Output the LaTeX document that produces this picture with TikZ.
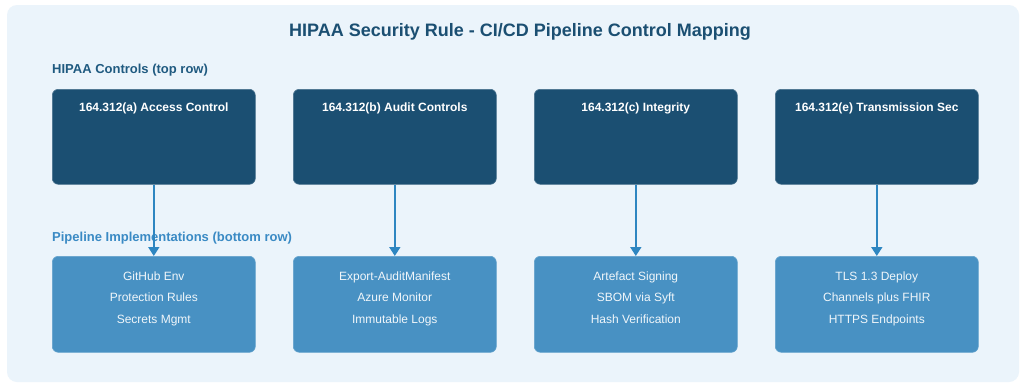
\documentclass[tikz,border=0pt]{standalone}
\usepackage{fontspec}
\setmainfont{Liberation Sans}
\usetikzlibrary{arrows.meta}
\definecolor{panelbg}{HTML}{EBF4FB}
\definecolor{navy}{HTML}{1B4F72}
\definecolor{midblue}{HTML}{4891C3}
\definecolor{arrowblue}{HTML}{2E86C1}
\definecolor{lbltop}{HTML}{1F5A80}
\definecolor{lblbot}{HTML}{3A8AC4}
\tikzset{
  x=1pt,y=-1pt,
  ctrlbox/.style={draw=navy!80!white, line width=0.6pt, fill=navy, rounded corners=6pt, minimum width=203pt, minimum height=95pt, inner sep=0pt, anchor=north west},
  implbox/.style={draw=midblue!85!white, line width=0.6pt, fill=midblue, rounded corners=6pt, minimum width=203pt, minimum height=96pt, inner sep=0pt, anchor=north west},
  ctrltext/.style={text=white, font=\fontsize{12}{14}\selectfont\bfseries, anchor=center},
  impltext/.style={text=white!92!midblue, font=\fontsize{12}{21.5}\selectfont, align=center, anchor=north},
  maparrow/.style={draw=arrowblue, line width=1.8pt, -{Triangle[length=9pt,width=11pt]}},
  rowlabel/.style={font=\fontsize{13}{15}\selectfont\bfseries, anchor=west, inner sep=0pt}
}
\begin{document}
\begin{tikzpicture}
\useasboundingbox (0,0) rectangle (1020,383);
\fill[white] (0,0) rectangle (1020,383);
\fill[panelbg, rounded corners=10pt] (7,5) rectangle (1019,382);
\node[font=\fontsize{18}{21}\selectfont\bfseries, text=navy] (title) at (520,32) {HIPAA Security Rule - CI/CD Pipeline Control Mapping};
\node[rowlabel, text=lbltop] (toplbl) at (52,70) {HIPAA Controls (top row)};
\node[rowlabel, text=lblbot] (botlbl) at (52,238) {Pipeline Implementations (bottom row)};
% top row
\node[ctrlbox] (c1) at (52,89) {};
\node[ctrlbox] (c2) at (293,89) {};
\node[ctrlbox] (c3) at (534,89) {};
\node[ctrlbox] (c4) at (775,89) {};
\node[ctrltext] (t1) at ([yshift=-19pt]c1.north) {164.312(a) Access Control};
\node[ctrltext] (t2) at ([yshift=-19pt]c2.north) {164.312(b) Audit Controls};
\node[ctrltext] (t3) at ([yshift=-19pt]c3.north) {164.312(c) Integrity};
\node[ctrltext] (t4) at ([yshift=-19pt]c4.north) {164.312(e) Transmission Sec};
% bottom row
\node[implbox] (i1) at (52,256) {};
\node[implbox] (i2) at (293,256) {};
\node[implbox] (i3) at (534,256) {};
\node[implbox] (i4) at (775,256) {};
\node[impltext] (u1) at ([yshift=-12pt]i1.north) {GitHub Env\\Protection Rules\\Secrets Mgmt};
\node[impltext] (u2) at ([yshift=-12pt]i2.north) {Export-AuditManifest\\Azure Monitor\\Immutable Logs};
\node[impltext] (u3) at ([yshift=-12pt]i3.north) {Artefact Signing\\SBOM via Syft\\Hash Verification};
\node[impltext] (u4) at ([yshift=-12pt]i4.north) {TLS 1.3 Deploy\\Channels plus FHIR\\HTTPS Endpoints};
% arrows
\foreach \k in {1,2,3,4}{
  \draw[maparrow] (c\k.south) -- (i\k.north);
}
\end{tikzpicture}
\end{document}
